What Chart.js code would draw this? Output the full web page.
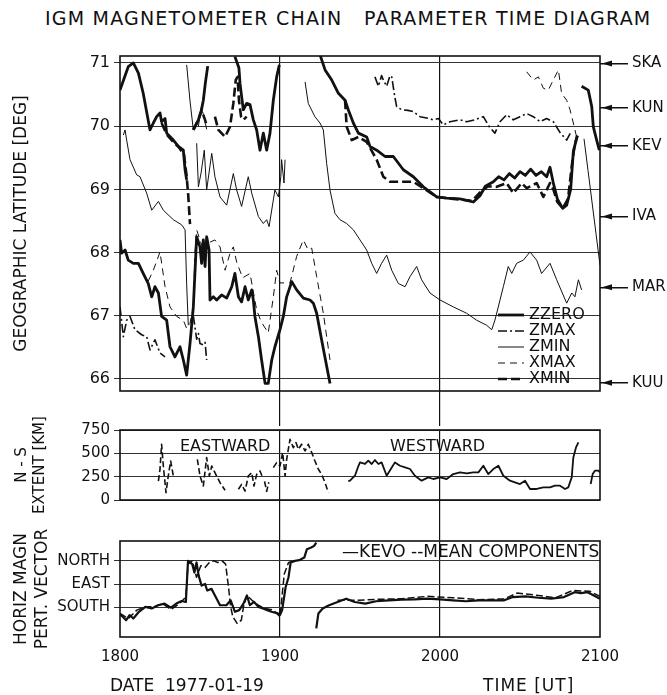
<!DOCTYPE html>
<html>
<head>
<meta charset="utf-8">
<script src="https://cdn.jsdelivr.net/npm/chart.js"></script>
<style>
  body { margin: 0; background: #fff; }
  #page { position: relative; width: 667px; height: 695px; font-family: "DejaVu Sans", sans-serif; color: #111; overflow: hidden; }
  canvas { position: absolute; left: 0; }
  .txt { position: absolute; white-space: pre; font-size: 15px; line-height: 16px; }
  #title { left: 45px; top: 7px; font-size: 19px; line-height: 22px; letter-spacing: 1.2px; }
  #legend { position: absolute; left: 498px; top: 306px; font-size: 16px; }
  #legend div { height: 16px; line-height: 16px; white-space: pre; }
  #legend svg { vertical-align: middle; margin-right: 5px; }
</style>
</head>
<body>
<div id="page">
  <div class="txt" id="title">IGM MAGNETOMETER CHAIN   PARAMETER TIME DIAGRAM</div>
  <canvas id="lat" width="667" height="426" style="top:0"></canvas>
  <canvas id="ext" width="667" height="140" style="top:400px"></canvas>
  <canvas id="dir" width="667" height="180" style="top:515px"></canvas>
  <div id="legend"></div>
  <div class="txt" style="left:180px;top:438px;font-size:16px">EASTWARD</div>
  <div class="txt" style="left:390px;top:438px;font-size:16px">WESTWARD</div>
  <div class="txt" style="left:342px;top:542px;font-size:17px;line-height:18px">—KEVO --MEAN COMPONENTS</div>
  <div class="txt" style="left:110px;top:676px;font-size:17px;line-height:18px">DATE  1977-01-19</div>
  <div class="txt" style="left:483px;top:676px;font-size:17px;line-height:18px;letter-spacing:1px">TIME [UT]</div>
</div>

<script>
// time axis: minutes after 1800 UT
var hourTicks = [0, 60, 120, 180];
var hourLabels = ["1800", "1900", "2000", "2100"];

var latTicks = [66, 67, 68, 69, 70, 71];
var stationNames = ["SKA", "KUN", "KEV", "IVA", "MAR", "KUU"];
var stationLat = [70.99, 70.29, 69.69, 68.57, 67.45, 65.94];

var extentTicks = [0, 250, 500, 750];
var dirLabels = ["SOUTH", "EAST", "NORTH"];
var dirValues = [0, 1, 2];

// top panel, each series is a list of separate traces [minute, latitude]
var zzero = [
  [[0,70.57],[1.5,70.75],[3.1,70.94],[5,71.0],[6.9,70.84],[8.7,70.52],[11.25,69.94],[12.5,70.05],[13.75,70.15],[15,70.21],[15.6,70.07],[16.9,70.12],[17.5,69.89],[20,69.78],[21.9,69.68],[23.75,69.62],[24.4,69.31],[25,69.15]],
  [[27.5,69.94],[29.4,70.1],[30.5,70.25],[31.25,70.41],[32,70.68],[32.9,70.95]],
  [[43.1,71.1],[44.6,70.92],[45,70.68],[45.6,70.47],[46.25,70.26],[47.5,70.36],[48.75,70.34],[50,70.1],[51.25,69.94],[52.5,69.62],[53.75,69.89],[55,69.62],[56.25,69.89],[57.5,70.41],[58.75,70.78],[59.75,70.97]],
  [[0,68.2],[0.6,67.99],[1.9,68.04],[3.1,67.88],[5,67.83],[6.9,67.83],[8.7,67.67],[10.6,67.51],[11.9,67.3],[13.1,67.46],[14.4,67.36],[15.6,66.99],[17.5,66.93],[18.75,66.51],[20.6,66.35],[22.5,66.51],[23.75,66.3],[25,66.06],[26.25,66.56],[27.5,67.14],[28.75,68.25],[30,68.09],[30.6,67.83],[31.25,68.2],[31.9,67.78],[32.5,68.25],[33.4,68.04],[33.75,67.25],[35,67.3],[36.25,67.25],[38.1,67.33],[40,67.28],[41.9,67.46],[43.1,67.67],[44.4,67.3],[45.6,67.22],[46.9,67.46],[48.1,67.25],[49.4,67.41],[50,67.25],[50.6,66.99],[51.9,66.67],[53.1,66.3],[54.4,65.93],[55.6,65.93],[56.9,66.3],[58.1,66.51],[60,66.78],[61.25,66.99],[62.5,67.3],[64.4,67.54],[66.25,67.41],[68.75,67.28],[71.25,67.25],[72.5,67.2],[73.75,67.04],[75.6,66.62],[78.75,65.93]],
  [[75,71.13],[76.9,70.89],[79.4,70.73],[81.9,70.52],[84.4,70.41],[85.6,70.26],[87.5,70.05],[89.4,69.89],[92.5,69.83],[93.75,69.68],[96.25,69.62],[99.4,69.52],[102.5,69.52],[106.25,69.31],[110,69.2],[113.75,69.04],[118.75,68.88],[122.5,68.86],[127.5,68.85],[132.5,68.8],[135,68.9],[137,69.05],[140,69.12],[142,69.2],[144,69.15],[146,69.25],[148,69.18],[150,69.28],[152,69.22],[154,69.32],[156,69.22],[158,69.28],[160,69.2],[161.25,69.35],[162.5,69.1],[164,68.85],[166,68.7],[167.5,68.75],[169,69.0],[170,69.6],[171.5,69.85]],
  [[173.1,70.63],[175.6,70.57],[176.9,70.31],[177.5,69.99],[178.75,69.78],[179.75,69.62]]
];
var zmax = [
  [[0,67.14],[1.25,66.67],[2.5,66.93],[3.75,66.99],[5.6,66.78],[8.1,66.7],[10,66.67],[11.25,66.46],[13.1,66.62],[15,66.41],[16.9,66.35]],
  [[27.5,67.0],[28.75,66.63],[29.4,66.72],[30,66.56],[31.25,66.54],[31.9,66.58],[32.5,66.3]],
  [[95.6,70.78],[96.9,70.63],[98.1,70.8],[98.75,70.73],[100,70.63],[101.25,70.8],[101.9,70.78],[103.1,70.45],[103.75,70.31],[105.6,70.26],[108,70.25],[110,70.23],[112.5,70.15],[115,70.13],[117.5,70.1],[119.4,70.12],[121.25,70.02],[123.75,70.07],[127.5,70.1],[130,70.07],[133,70.1],[136.25,70.15],[138.5,69.99],[140.6,69.89],[142.5,70.07],[145,70.18],[147.5,70.1],[150,70.15],[152.5,70.2],[155,70.15],[157.5,70.07],[160,70.12],[162.5,70.07],[165,69.9],[167.5,69.78],[169,69.9]]
];
var zmin = [
  [[1.25,69.86],[1.9,69.94],[2.5,69.78],[3.75,69.47],[6.25,69.23],[7.5,69.2],[10,68.94],[11.9,68.67],[14.4,68.81],[16.25,68.67],[20,68.52],[23.1,68.44],[24.4,68.36],[25,67.5],[25.6,66.85]],
  [[25,70.97],[26.25,70.4],[27.5,69.94]],
  [[28.75,69.73],[29.4,69.04],[30.4,69.26],[31.6,69.62],[32.5,68.99],[34.4,69.57],[35.6,69.2],[37.5,68.88],[40,68.75],[42.5,69.25],[43.75,68.99],[45.6,68.73],[48.1,69.2],[49.4,68.94],[51.9,68.57],[53.75,68.46],[55,68.52],[55.9,68.41],[58.1,68.99],[59.4,68.88],[60.3,69.2],[60.6,69.47],[61.5,69.1],[61.9,69.47]],
  [[69.4,70.7],[70.6,70.36],[73.1,70.15],[75,70.05],[76.25,69.94],[77.5,69.41],[78.75,68.99],[80.6,68.62],[82.5,68.52],[85,68.46],[87.5,68.36],[90,68.2],[92.5,68.04],[94.4,67.83],[96.25,67.67],[98.1,67.83],[100,67.96],[101.9,67.72],[104.4,67.51],[106.9,67.46],[108.75,67.62],[111.25,67.78],[113.1,67.57],[116.25,67.36],[120,67.25],[125,67.14],[130,67.04],[133.75,66.93],[137.5,66.85],[139.4,66.78],[140.6,66.93],[143.75,67.46],[145.6,67.78],[146.9,67.67],[148.75,67.83],[151.25,67.88],[153.75,68.01],[156.25,67.88],[158.1,67.67],[161.25,67.83],[163.75,67.57],[167.5,67.2],[169.4,67.36],[170.6,67.3],[171.9,67.57],[173.1,67.41]],
  [[174,69.8],[175.5,69.3],[177,68.8],[178.5,68.3],[180,67.8]]
];
var xmax = [
  [[10.6,67.55],[12.5,67.72],[15,68.01],[16.9,67.46],[18.75,67.14],[21.25,66.99],[23.75,66.93],[25,66.8],[26.25,66.88],[27.5,67.14],[28.1,67.99],[28.75,68.36],[30,68.2],[31.5,68.0],[33,68.15],[35.6,68.2],[37.5,68.09],[39.4,67.72],[41.25,67.99],[42.5,68.09],[43.75,67.85],[46,67.6],[48.75,67.67],[51.25,67.09],[53,66.9],[55.6,66.73],[57.5,67.3],[58.75,67.72],[60,67.52],[63.75,67.52],[66.25,67.94],[68.75,68.2],[70.6,68.04],[71.9,68.07],[73.75,67.62],[76.25,67.04],[78.75,66.3]],
  [[29.4,70.0],[30.5,70.3],[31.5,70.15],[32.5,69.95]],
  [[152.5,70.86],[155,70.73],[156.9,70.78],[158.75,70.6],[160.6,70.57],[162.5,70.73],[164.4,70.89],[165.6,70.52],[167.5,70.41],[168.75,70.26],[170,70.05],[171.5,69.78]]
];
var xmin = [
  [[15.6,70.05],[17.5,69.87],[20,69.75],[22,69.67],[24,69.55],[25,69.2],[25.6,68.9],[26.25,68.45]],
  [[27.5,69.94],[29.4,70.1],[30.6,70.25],[31.9,70.1],[32.5,70.0]],
  [[35.6,70.15],[36.9,69.94],[39.4,69.83],[41.25,69.99],[42.5,70.36],[43.4,70.73],[44.1,70.78],[44.6,70.41],[45.4,70.15],[46.25,70.1],[47.5,70.15]],
  [[84.4,70.41],[85,69.99],[86.9,69.78],[89.4,69.83],[92.5,69.75],[96.25,69.47],[98.75,69.2],[101.25,69.12],[105,69.12],[110,69.12],[113.75,69.02],[118.75,68.88],[125,68.85],[132,68.82],[135,68.95],[138,69.05],[141.25,69.04],[145,69.1],[147.5,68.94],[150.6,69.1],[152.5,69.02],[156.25,69.1],[158.75,68.88],[161.25,69.1],[162.5,69.0],[164,68.8],[166,68.7],[168,68.85],[169.5,69.4],[170.5,69.7],[171.5,69.85]]
];

// middle panel, N-S extent in km
var eastward = [
  [[14.4,203],[15,329],[15.6,597],[16.25,364],[17.25,79],[18.1,257],[19,418],[20,257],[20.6,240]],
  [[29,436],[30,257],[31.25,150],[32.5,454],[33.5,257],[34.4,364],[35.6,293],[37.5,186],[39.4,104]],
  [[44.4,115],[45.6,168],[46.9,96],[48.1,257],[49.4,293],[50.25,150],[51.25,275],[52.5,311],[53.5,240]],
  [[54.2,200],[55,93],[55.8,190]],
  [[57.5,347],[58.75,400],[60,364],[61,508],[61.9,257],[62.5,436],[63.75,650],[65,561],[66,615],[66.9,543],[68.1,597],[69.4,525],[70.6,597],[71.9,508],[73.1,418],[74.4,329],[75.6,275],[76.9,186],[78.1,79]]
];
var westward = [
  [[85.6,203],[86.25,207],[88.1,260],[89.4,364],[90,403],[91.9,386],[93.1,421],[94.4,386],[95.6,428],[96.9,386],[98.1,403],[100,260],[101.9,349],[103.1,403],[105,367],[106.9,349],[108.75,332],[110.6,260],[113.1,207],[115.6,242],[117.5,225],[120,242],[122.5,225],[125,278],[127.5,296],[130,285],[132.5,296],[134.4,296],[136.25,367],[138.1,278],[140,332],[141.9,367],[143.75,260],[146.25,207],[148.1,189],[150,171],[151.9,207],[153.75,118],[156.25,118],[158.75,135],[161.25,135],[163.1,153],[165,153],[166.9,118],[168.1,135],[169.4,242],[170,456],[171,563],[171.9,617]],
  [[176.5,171],[177.25,278],[178.1,314],[179.4,314],[180,296]]
];

// bottom panel, direction (0 south, 1 east, 2 north)
var kevo = [
  [[0,-0.3],[1,-0.39],[2.3,-0.54],[3.6,-0.32],[5,-0.47],[7.1,-0.18],[9.5,0.03],[11.9,-0.04],[14.3,0.1],[16.7,0.17],[19.1,0.0],[21.5,0.2],[23.1,0.28],[24.7,0.24],[25.5,2.0],[27.1,1.86],[27.9,1.5],[28.7,1.93],[29.5,1.37],[30.6,0.94],[31.9,1.01],[32.7,0.73],[34.3,0.8],[35.9,0.45],[37.5,0.1],[39.9,0.1],[41.5,0.31],[43.1,-0.18],[44.7,-0.11],[46.3,0.17],[47.6,0.52],[48.7,0.1],[50.3,0.24],[51.9,0.03],[53.6,-0.04],[55.2,-0.11],[56.8,-0.18],[59.2,-0.25],[60,-0.32],[60.8,-0.11],[62.1,0.87],[63.2,1.3],[64,1.93],[65.6,2.0],[67.2,2.03],[69.1,2.14],[70.1,2.5],[71.7,2.57],[72.8,2.64],[73.6,2.78]],
  [[73.6,-0.89],[74.4,-0.25],[76,-0.04],[78.4,0.1],[81.6,0.24],[84.8,0.38],[88,0.24],[92,0.17],[96,0.27],[100.8,0.31],[105.6,0.34],[110.4,0.35],[115.3,0.38],[120.1,0.35],[124.9,0.31],[129.7,0.27],[134.5,0.31],[139.3,0.31],[144.1,0.31],[147.3,0.45],[152.1,0.48],[156.9,0.42],[161.7,0.38],[166.5,0.45],[170.5,0.66],[172.9,0.62],[175.3,0.66],[177.7,0.52],[180,0.38]]
];
var meanComp = [
  [[0,-0.25],[3.1,-0.47],[6.3,-0.11],[9.5,0.03],[12.7,0.03],[15.9,0.17],[19.1,-0.08],[22.3,0.17],[24.7,0.45],[25.5,1.86],[27.1,2.0],[28.7,1.3],[30.3,1.79],[31.9,1.72],[33.5,1.93],[35.1,2.0],[36.7,1.93],[38.3,2.0],[39.6,1.86],[40.7,0.87],[41.5,0.03],[42.3,-0.39],[43.9,-0.68],[45.5,-0.54],[46.3,0.03],[47.6,0.52],[49.5,0.31],[51.9,0.1],[54.3,-0.04],[57.6,-0.11],[60,-0.39],[61.6,1.44],[63.2,1.93],[65.6,2.0]],
  [[81.6,0.31],[88,0.31],[96,0.35],[105.6,0.38],[115.3,0.48],[124.9,0.42],[134.5,0.34],[144.1,0.37],[148.9,0.62],[156.9,0.52],[163.3,0.42],[169.7,0.73],[176.1,0.7],[180,0.48]]
];

Chart.defaults.font.family = "'DejaVu Sans', sans-serif";
Chart.defaults.font.size = 15;
Chart.defaults.color = "#111";

// join the traces of one series, a null point breaks the line
function traces(list) {
  var out = [];
  list.forEach(function (s, i) {
    if (i) out.push({ x: s[0][0], y: null });
    s.forEach(function (p) { out.push({ x: p[0], y: p[1] }); });
  });
  return out;
}

function line(label, list, width, dash) {
  return {
    label: label, data: traces(list),
    borderColor: "#111", borderWidth: width, borderDash: dash,
    pointRadius: 0, fill: false, spanGaps: false, borderJoinStyle: "round"
  };
}

var frame = {
  id: "frame",
  afterDraw: function (chart) {
    var a = chart.chartArea, ctx = chart.ctx;
    ctx.save();
    ctx.strokeStyle = "#111";
    ctx.lineWidth = 1.6;
    ctx.strokeRect(a.left, a.top, a.right - a.left, a.bottom - a.top);
    var yr = chart.scales.yr;
    if (yr) {
      ctx.fillStyle = "#111";
      yr.ticks.forEach(function (t) {
        var y = yr.getPixelForValue(t.value);
        ctx.beginPath();
        ctx.moveTo(a.right + 2, y);
        ctx.lineTo(a.right + 12, y - 3);
        ctx.lineTo(a.right + 12, y + 3);
        ctx.closePath();
        ctx.fill();
      });
    }
    ctx.restore();
  }
};

function xAxis(height, showLabels) {
  return {
    type: "linear", min: 0, max: 180,
    afterBuildTicks: function (s) { s.ticks = hourTicks.map(function (v) { return { value: v }; }); },
    afterFit: function (s) { s.height = height; },
    border: { display: false },
    grid: {
      color: function (c) { return (c.tick && (c.tick.value === 60 || c.tick.value === 120)) ? "#111" : "rgba(0,0,0,0)"; },
      lineWidth: 1.2, drawTicks: !showLabels, tickLength: height
    },
    ticks: {
      display: showLabels, padding: 11, autoSkip: false, maxRotation: 0,
      callback: function (v, i) { return hourLabels[i]; }
    }
  };
}

function yAxis(min, max, tickVals, labelFn, title, titleSize, tickSize) {
  return {
    min: min, max: max,
    afterBuildTicks: function (s) { s.ticks = tickVals.map(function (v) { return { value: v }; }); },
    afterFit: function (s) { s.width = 120; },
    border: { display: false },
    grid: { color: "#333", lineWidth: 1, tickLength: 6 },
    ticks: { padding: 4, autoSkip: false, font: { size: tickSize }, callback: labelFn },
    title: { display: true, text: title, padding: { top: 22 - titleSize * 0.6, bottom: 0 }, font: { size: titleSize } }
  };
}

var base = {
  animation: false, responsive: false, devicePixelRatio: 1,
  plugins: { legend: { display: false }, tooltip: { enabled: false } }
};

new Chart(document.getElementById("lat"), {
  type: "line",
  data: {
    datasets: [
      line("ZZERO", zzero, 2.8, []),
      line("ZMAX", zmax, 1.6, [9, 3, 2, 3]),
      line("ZMIN", zmin, 1.0, []),
      line("XMAX", xmax, 1.0, [7, 5]),
      line("XMIN", xmin, 2.6, [9, 4])
    ]
  },
  options: Object.assign({}, base, {
    layout: { padding: { top: 56, left: 0, right: 0, bottom: 0 } },
    scales: {
      x: xAxis(35, false),
      y: yAxis(65.81, 71.11, latTicks, function (v) { return v; }, "GEOGRAPHIC LATITUDE [DEG]", 17, 16),
      yr: {
        position: "right", min: 65.81, max: 71.11,
        afterBuildTicks: function (s) { s.ticks = stationLat.map(function (v) { return { value: v }; }); },
        afterFit: function (s) { s.width = 67; },
        border: { display: false },
        grid: { drawOnChartArea: false, tickLength: 28, color: "#111", lineWidth: 1.5 },
        ticks: { padding: 4, autoSkip: false, font: { size: 15 }, callback: function (v, i) { return stationNames[i]; } }
      }
    }
  }),
  plugins: [frame]
});

new Chart(document.getElementById("ext"), {
  type: "line",
  data: {
    datasets: [
      line("EASTWARD", eastward, 1.6, [6, 3]),
      line("WESTWARD", westward, 1.8, [])
    ]
  },
  options: Object.assign({}, base, {
    layout: { padding: { top: 30, left: 0, right: 67, bottom: 0 } },
    scales: {
      x: xAxis(40, false),
      y: yAxis(0, 750, extentTicks, function (v) { return v; }, ["N - S", "EXTENT [KM]"], 15, 15)
    }
  }),
  plugins: [frame]
});

new Chart(document.getElementById("dir"), {
  type: "line",
  data: {
    datasets: [
      line("KEVO", kevo, 2.2, []),
      line("MEAN COMPONENTS", meanComp, 1.5, [7, 3])
    ]
  },
  options: Object.assign({}, base, {
    layout: { padding: { top: 26, left: 0, right: 67, bottom: 0 } },
    scales: {
      x: xAxis(58, true),
      y: yAxis(-1.26, 2.85, dirValues, function (v, i) { return dirLabels[i]; }, ["HORIZ MAGN", "PERT. VECTOR"], 17, 15)
    }
  }),
  plugins: [frame]
});

// legend for the latitude panel
var legendRows = [
  ["ZZERO", 2.8, ""], ["ZMAX", 1.6, "9 3 2 3"], ["ZMIN", 1.0, ""], ["XMAX", 1.0, "7 5"], ["XMIN", 2.6, "9 4"]
];
var lg = document.getElementById("legend");
legendRows.forEach(function (r) {
  var d = document.createElement("div");
  d.innerHTML = '<svg width="26" height="14"><line x1="0" y1="7" x2="26" y2="7" stroke="#111" stroke-width="' + r[1] +
    '" stroke-dasharray="' + r[2] + '"/></svg>' + r[0];
  lg.appendChild(d);
});
</script>
</body>
</html>
